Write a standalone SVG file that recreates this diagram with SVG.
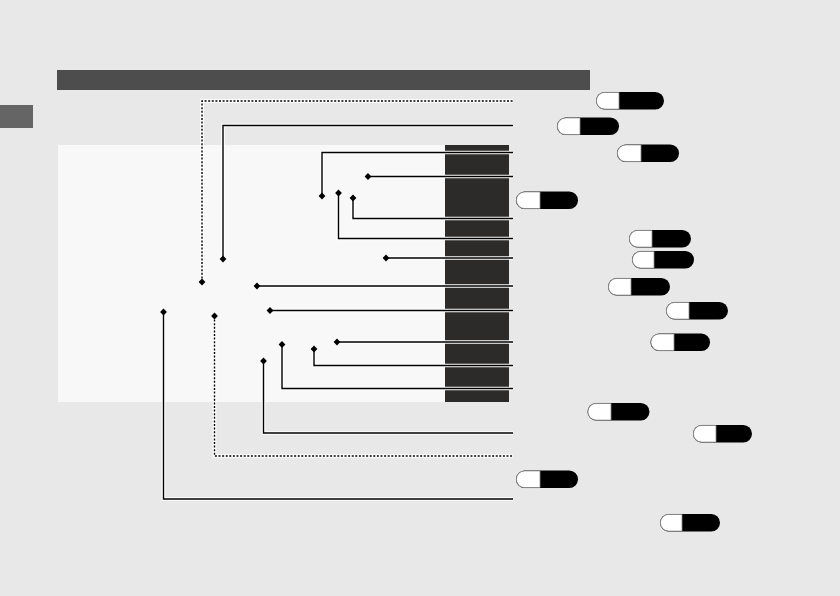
<svg xmlns="http://www.w3.org/2000/svg" width="840" height="596" viewBox="0 0 840 596">
<defs>
<style>
.bg{fill:#e8e8e8}
.hdr{fill:#4d4d4d}
.tab{fill:#656565}
.panel{fill:#f8f8f8}
.col{fill:#2d2b29}
.halo{fill:none;stroke:#ffffff;stroke-width:3.6}
.ln{fill:none;stroke:#000000;stroke-width:1.4;marker-start:url(#dia)}
.dot{stroke-dasharray:2 1.6}
.pk{fill:#000000}
.pw{fill:#ffffff;stroke:#8a8a8a;stroke-width:0.8}
</style>
<marker id="dia" markerUnits="userSpaceOnUse" markerWidth="9" markerHeight="9" viewBox="-4.5 -4.5 9 9" refX="0" refY="0" orient="0">
<polygon points="-3.4,0 0,-3.4 3.4,0 0,3.4" fill="#000000"/>
</marker>
</defs>
<rect class="bg" x="0" y="0" width="840" height="596"/>
<rect class="hdr" x="57" y="70" width="533" height="20"/>
<rect class="tab" x="0" y="105" width="33" height="23"/>
<rect class="panel" x="58" y="145" width="387" height="257"/>
<rect class="col" x="445" y="145" width="64" height="257"/>
<g id="connectors">
<g id="halos">
<path class="halo" d="M202,282 V101 H513"/>
<path class="halo" d="M223,259 V125.5 H513"/>
<path class="halo" d="M322,196 V152.5 H513"/>
<path class="halo" d="M368,176.5 H513"/>
<path class="halo" d="M353,198 V218.5 H513"/>
<path class="halo" d="M338.5,193 V238.5 H513"/>
<path class="halo" d="M386,258 H513"/>
<path class="halo" d="M257,286 H513"/>
<path class="halo" d="M270,310.5 H513"/>
<path class="halo" d="M337,342 H513"/>
<path class="halo" d="M314,349 V365.5 H513"/>
<path class="halo" d="M282,344.5 V388.5 H513"/>
<path class="halo" d="M263.5,361 V433 H513"/>
<path class="halo" d="M214.5,316 V456 H513"/>
<path class="halo" d="M163.5,312 V499 H513"/>
</g>
<g id="lines">
<path id="c1" class="ln dot" d="M202,282 V101 H513"/>
<path id="c2" class="ln" d="M223,259 V125.5 H513"/>
<path id="c3" class="ln" d="M322,196 V152.5 H513"/>
<path id="c4" class="ln" d="M368,176.5 H513"/>
<path id="c5" class="ln" d="M353,198 V218.5 H513"/>
<path id="c6" class="ln" d="M338.5,193 V238.5 H513"/>
<path id="c7" class="ln" d="M386,258 H513"/>
<path id="c8" class="ln" d="M257,286 H513"/>
<path id="c9" class="ln" d="M270,310.5 H513"/>
<path id="c10" class="ln" d="M337,342 H513"/>
<path id="c11" class="ln" d="M314,349 V365.5 H513"/>
<path id="c12" class="ln" d="M282,344.5 V388.5 H513"/>
<path id="c13" class="ln" d="M263.5,361 V433 H513"/>
<path id="c14" class="ln dot" d="M214.5,316 V456 H513"/>
<path id="c15" class="ln" d="M163.5,312 V499 H513"/>
</g>
</g>
<g id="pill1" transform="translate(596,92)"><rect class="pk" width="68" height="17.5" rx="8.75"/><path class="pw" d="M23,0.4 V17.1 H8.75 A8.35,8.35 0 0 1 8.75,0.4 Z"/></g>
<g id="pill2" transform="translate(557,117.5)"><rect class="pk" width="62" height="17.5" rx="8.75"/><path class="pw" d="M23,0.4 V17.1 H8.75 A8.35,8.35 0 0 1 8.75,0.4 Z"/></g>
<g id="pill3" transform="translate(617,144.5)"><rect class="pk" width="62" height="17.5" rx="8.75"/><path class="pw" d="M24,0.4 V17.1 H8.75 A8.35,8.35 0 0 1 8.75,0.4 Z"/></g>
<g id="pill4" transform="translate(516,191.5)"><rect class="pk" width="62" height="17.5" rx="8.75"/><path class="pw" d="M24,0.4 V17.1 H8.75 A8.35,8.35 0 0 1 8.75,0.4 Z"/></g>
<g id="pill5" transform="translate(629,230)"><rect class="pk" width="62" height="17.5" rx="8.75"/><path class="pw" d="M23,0.4 V17.1 H8.75 A8.35,8.35 0 0 1 8.75,0.4 Z"/></g>
<g id="pill6" transform="translate(632,251)"><rect class="pk" width="62" height="17.5" rx="8.75"/><path class="pw" d="M22,0.4 V17.1 H8.75 A8.35,8.35 0 0 1 8.75,0.4 Z"/></g>
<g id="pill7" transform="translate(608,278)"><rect class="pk" width="62" height="17.5" rx="8.75"/><path class="pw" d="M23,0.4 V17.1 H8.75 A8.35,8.35 0 0 1 8.75,0.4 Z"/></g>
<g id="pill8" transform="translate(666,302)"><rect class="pk" width="62" height="17.5" rx="8.75"/><path class="pw" d="M23,0.4 V17.1 H8.75 A8.35,8.35 0 0 1 8.75,0.4 Z"/></g>
<g id="pill9" transform="translate(650.5,333.5)"><rect class="pk" width="59.5" height="17.5" rx="8.75"/><path class="pw" d="M23.5,0.4 V17.1 H8.75 A8.35,8.35 0 0 1 8.75,0.4 Z"/></g>
<g id="pill10" transform="translate(587.5,403)"><rect class="pk" width="62" height="17.5" rx="8.75"/><path class="pw" d="M23.5,0.4 V17.1 H8.75 A8.35,8.35 0 0 1 8.75,0.4 Z"/></g>
<g id="pill11" transform="translate(693,425)"><rect class="pk" width="59" height="17.5" rx="8.75"/><path class="pw" d="M23,0.4 V17.1 H8.75 A8.35,8.35 0 0 1 8.75,0.4 Z"/></g>
<g id="pill12" transform="translate(516,470.5)"><rect class="pk" width="62" height="17.5" rx="8.75"/><path class="pw" d="M24,0.4 V17.1 H8.75 A8.35,8.35 0 0 1 8.75,0.4 Z"/></g>
<g id="pill13" transform="translate(660,514)"><rect class="pk" width="60" height="17.5" rx="8.75"/><path class="pw" d="M22,0.4 V17.1 H8.75 A8.35,8.35 0 0 1 8.75,0.4 Z"/></g>
</svg>
